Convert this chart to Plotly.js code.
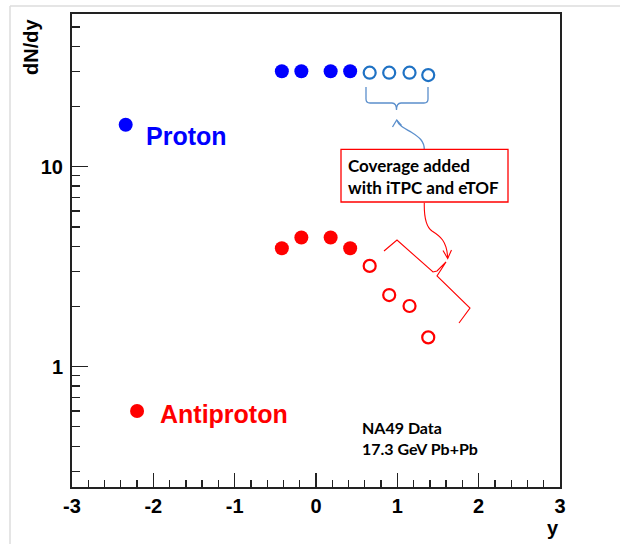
<!DOCTYPE html>
<html>
<head>
<meta charset="utf-8">
<script src="https://cdn.plot.ly/plotly-3.0.1.min.js"></script>
<style>html,body{margin:0;padding:0;background:#fff;}</style>
</head>
<body>
<div id="chart" style="width:620px;height:544px;"></div>
<script>
// Rapidity bins: measured (NA49) and the extended coverage
const rapidityNA49 = [-0.42, -0.18, 0.18, 0.42];
const rapidityExt = [0.66, 0.90, 1.15, 1.38];
// dN/dy values
const protonNA49 = [30, 30, 30, 30];
const protonExt = [29.5, 29.5, 29.5, 28.7];
const antiprotonNA49 = [3.91, 4.42, 4.42, 3.91];
const antiprotonExt = [3.19, 2.28, 2.01, 1.40];
// Key markers next to the species names
const keyProtonX = [-2.34];
const keyProtonY = [16.2];
const keyAntiX = [-2.20];
const keyAntiY = [0.60];
const xTickVals = [-3, -2, -1, 0, 1, 2, 3];
const yTickVals = [1, 10];

// Canvas geometry used to place the drawn decorations
const L = 72, T = 14, PW = 488, PH = 473;
const px = x => (x - L) / PW;
const py = y => (T + PH - y) / PH;
function path(cmds) {
  // cmds: array of [letter, x1, y1, x2, y2, ...] in canvas pixels
  return cmds.map(c => {
    const out = [c[0]];
    for (let i = 1; i < c.length; i += 2) {
      out.push(px(c[i]).toFixed(5) + ',' + py(c[i + 1]).toFixed(5));
    }
    return out.join(' ');
  }).join(' ');
}

const BLUE = '#0000ff', BLUE_OPEN = '#1f72c4', RED = '#ff0000';
const LINE_BLUE = '#5b8fcc';

const traces = [
  { x: rapidityNA49, y: protonNA49, mode: 'markers', type: 'scatter',
    marker: { symbol: 'circle', size: 14, color: BLUE } },
  { x: rapidityExt, y: protonExt, mode: 'markers', type: 'scatter',
    marker: { symbol: 'circle-open', size: 12, color: BLUE_OPEN, line: { width: 2.2, color: BLUE_OPEN } } },
  { x: rapidityNA49, y: antiprotonNA49, mode: 'markers', type: 'scatter',
    marker: { symbol: 'circle', size: 14, color: RED } },
  { x: rapidityExt, y: antiprotonExt, mode: 'markers', type: 'scatter',
    marker: { symbol: 'circle-open', size: 12, color: RED, line: { width: 2.2, color: RED } } },
  { x: keyProtonX, y: keyProtonY, mode: 'markers', type: 'scatter',
    marker: { symbol: 'circle', size: 14, color: BLUE } },
  { x: keyAntiX, y: keyAntiY, mode: 'markers', type: 'scatter',
    marker: { symbol: 'circle', size: 14, color: RED } }
];

const tickFont = { family: 'Liberation Sans, Arial, sans-serif', size: 20, color: '#000', weight: 'bold' };

const shapes = [
  // slide border
  { type: 'line', xref: 'paper', yref: 'paper', x0: px(10), y0: py(6), x1: px(625), y1: py(6), line: { color: '#dcdcdc', width: 1.5 } },
  { type: 'line', xref: 'paper', yref: 'paper', x0: px(10), y0: py(6), x1: px(10), y1: py(550), line: { color: '#dcdcdc', width: 1.5 } },
  // brace under the extended proton points
  { type: 'path', xref: 'paper', yref: 'paper', line: { color: LINE_BLUE, width: 1.3 },
    path: path([['M', 366, 87], ['L', 366, 99], ['Q', 366, 103, 370, 103], ['L', 392, 103],
                ['Q', 396.5, 103, 396.5, 110], ['Q', 396.5, 103, 401, 103], ['L', 424, 103],
                ['Q', 428, 103, 428, 99], ['L', 428, 87]]) },
  // blue arrow from the box to the brace
  { type: 'path', xref: 'paper', yref: 'paper', line: { color: LINE_BLUE, width: 1.3 },
    path: path([['M', 424.3, 150], ['C', 424.5, 141, 419, 137, 411, 132], ['C', 403, 127.5, 398.5, 125, 396.7, 120]]) },
  { type: 'path', xref: 'paper', yref: 'paper', line: { color: LINE_BLUE, width: 1.3 },
    path: path([['M', 392.5, 127], ['L', 396.7, 120], ['L', 401.5, 125.5]]) },
  // red text box
  { type: 'rect', xref: 'paper', yref: 'paper', x0: px(341), x1: px(508), y0: py(149.3), y1: py(202),
    line: { color: RED, width: 1.3 }, fillcolor: 'rgba(0,0,0,0)' },
  // red arrow from the box to the rotated brace
  { type: 'path', xref: 'paper', yref: 'paper', line: { color: RED, width: 1.1 },
    path: path([['M', 424.3, 202.7], ['C', 424, 215, 425, 226, 432, 231], ['C', 440, 236, 447, 241, 447.7, 258]]) },
  { type: 'path', xref: 'paper', yref: 'paper', line: { color: RED, width: 1.1 },
    path: path([['M', 443, 250.5], ['L', 447.7, 258.5], ['L', 451.5, 250]]) },
  // rotated brace along the extended antiproton points
  { type: 'path', xref: 'paper', yref: 'paper', line: { color: RED, width: 1.1 },
    path: path([['M', 384, 251], ['L', 397, 240], ['L', 433, 272], ['L', 437, 271], ['L', 446, 262],
                ['L', 437, 276], ['L', 470, 308], ['L', 459, 323]]) }
];

const calibriLike = 'Lato, Open Sans, sans-serif';
const annotations = [
  { xref: 'paper', yref: 'paper', x: px(31), y: py(17), xanchor: 'center', yanchor: 'top',
    text: 'dN/dy', textangle: -90, showarrow: false,
    font: { family: 'Liberation Sans, Arial, sans-serif', size: 20, color: '#000', weight: 'bold' } },
  { xref: 'paper', yref: 'paper', x: px(553), y: py(528), xanchor: 'center', yanchor: 'middle',
    text: 'y', showarrow: false,
    font: { family: 'Liberation Sans, Arial, sans-serif', size: 20, color: '#000', weight: 'bold' } },
  { xref: 'paper', yref: 'paper', x: px(144), y: py(136), xanchor: 'left', yanchor: 'middle',
    text: 'Proton', showarrow: false,
    font: { family: 'Liberation Sans, Arial, sans-serif', size: 25, color: BLUE, weight: 'bold' } },
  { xref: 'paper', yref: 'paper', x: px(158), y: py(414), xanchor: 'left', yanchor: 'middle',
    text: 'Antiproton', showarrow: false,
    font: { family: 'Liberation Sans, Arial, sans-serif', size: 25, color: RED, weight: 'bold' } },
  { xref: 'paper', yref: 'paper', x: px(346), y: py(176), xanchor: 'left', yanchor: 'middle', align: 'left',
    text: 'Coverage added<br>with iTPC and eTOF', showarrow: false,
    font: { family: calibriLike, size: 17, color: '#000', weight: 'bold' } },
  { xref: 'paper', yref: 'paper', x: px(360), y: py(437.5), xanchor: 'left', yanchor: 'middle', align: 'left',
    text: 'NA49 Data<br>17.3 GeV Pb+Pb', showarrow: false,
    font: { family: calibriLike, size: 16, color: '#000', weight: 'bold' } }
];

const layout = {
  width: 620, height: 544,
  margin: { l: L, r: 620 - L - PW, t: T, b: 544 - T - PH, pad: 0 },
  paper_bgcolor: '#fff', plot_bgcolor: '#fff',
  showlegend: false,
  xaxis: {
    range: [-3, 3], tickvals: xTickVals, ticktext: xTickVals.map(String),
    ticks: 'inside', ticklen: 14, tickwidth: 1.3, tickcolor: '#222',
    minor: { dtick: 0.2, ticks: 'inside', ticklen: 7, tickwidth: 1.3, tickcolor: '#222' },
    showgrid: false, zeroline: false,
    showline: true, mirror: true, linecolor: '#222', linewidth: 2,
    tickfont: tickFont, ticklabelstandoff: 0
  },
  yaxis: {
    type: 'log', range: [Math.log10(0.25), Math.log10(58)],
    tickvals: yTickVals, ticktext: yTickVals.map(String),
    ticks: 'inside', ticklen: 16, tickwidth: 1.3, tickcolor: '#222',
    minor: { dtick: 'D1', ticks: 'inside', ticklen: 8, tickwidth: 1.3, tickcolor: '#222' },
    showgrid: false, zeroline: false,
    showline: true, mirror: true, linecolor: '#222', linewidth: 2,
    tickfont: tickFont, ticklabelstandoff: 3
  },
  shapes: shapes,
  annotations: annotations
};

Plotly.newPlot('chart', traces, layout, { staticPlot: true, displayModeBar: false });
</script>
</body>
</html>
